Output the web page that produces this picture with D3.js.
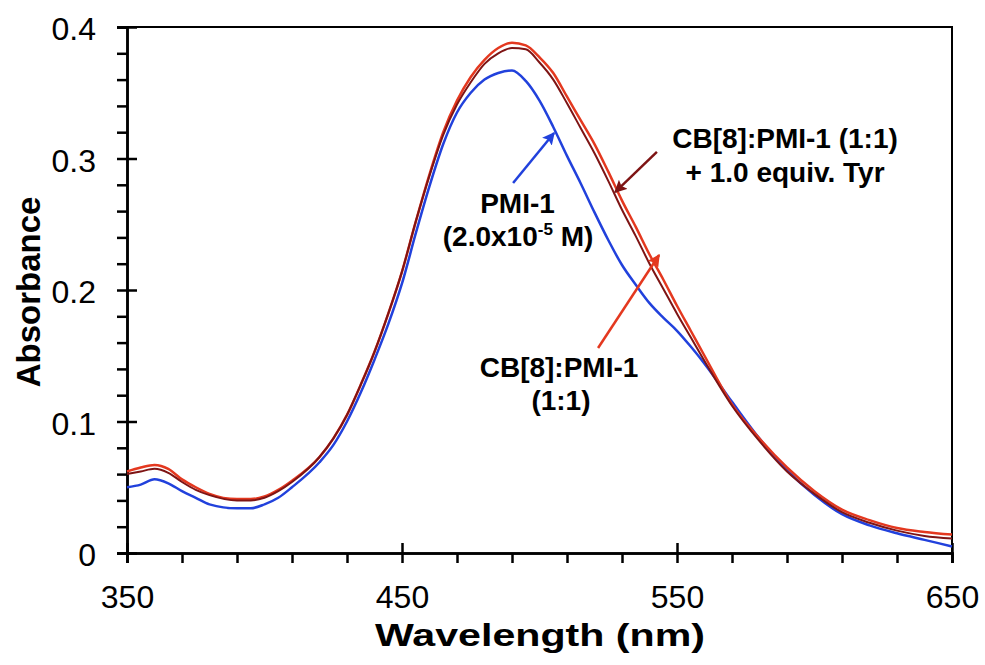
<!DOCTYPE html>
<html>
<head>
<meta charset="utf-8">
<script src="https://cdn.jsdelivr.net/npm/d3@7"></script>
<style>
  body { margin: 0; background: #fff; }
  text { font-family: "Liberation Sans", Arial, sans-serif; }
</style>
</head>
<body>
<div id="chart-area"></div>
<script>
const wavelengths = [350, 355, 360, 365, 370, 375, 380, 390, 395, 400, 405, 410, 420, 425, 430, 435, 440, 445, 450, 455, 460, 465, 470, 475, 480, 485, 490, 495, 500, 505, 510, 515, 520, 525, 530, 535, 540, 545, 550, 555, 560, 570, 580, 590, 600, 610, 620, 630, 640, 650];

const pmi = [0.050, 0.052, 0.056, 0.053, 0.047, 0.042, 0.037, 0.034, 0.034, 0.037, 0.042, 0.050, 0.069, 0.082, 0.100, 0.122, 0.147, 0.174, 0.205, 0.243, 0.279, 0.311, 0.335, 0.350, 0.360, 0.365, 0.367, 0.359, 0.344, 0.324, 0.302, 0.281, 0.259, 0.238, 0.219, 0.204, 0.190, 0.179, 0.169, 0.157, 0.144, 0.115, 0.087, 0.063, 0.044, 0.0295, 0.021, 0.015, 0.010, 0.005];

const cbPmi = [0.062, 0.065, 0.067, 0.064, 0.056, 0.050, 0.045, 0.041, 0.041, 0.043, 0.048, 0.055, 0.073, 0.087, 0.105, 0.128, 0.153, 0.182, 0.214, 0.252, 0.288, 0.320, 0.344, 0.362, 0.375, 0.384, 0.388, 0.386, 0.377, 0.365, 0.347, 0.329, 0.311, 0.290, 0.268, 0.248, 0.227, 0.208, 0.188, 0.169, 0.150, 0.113, 0.087, 0.065, 0.047, 0.033, 0.025, 0.019, 0.016, 0.014];

const cbPmiTyr = [0.060, 0.062, 0.064, 0.061, 0.054, 0.048, 0.044, 0.040, 0.040, 0.042, 0.047, 0.054, 0.073, 0.087, 0.105, 0.128, 0.153, 0.182, 0.214, 0.252, 0.287, 0.318, 0.341, 0.358, 0.372, 0.380, 0.384, 0.383, 0.373, 0.360, 0.342, 0.323, 0.304, 0.283, 0.261, 0.241, 0.220, 0.201, 0.182, 0.164, 0.146, 0.112, 0.085, 0.062, 0.045, 0.031, 0.023, 0.017, 0.013, 0.011];

const xMajor = [350, 450, 550, 650];
const xMinor = [370, 390, 410, 430, 470, 490, 510, 530, 570, 590, 610, 630];
const yMajor = [0, 0.1, 0.2, 0.3, 0.4];
const yMinor = [0.02, 0.04, 0.06, 0.08, 0.12, 0.14, 0.16, 0.18, 0.22, 0.24, 0.26, 0.28, 0.32, 0.34, 0.36, 0.38];
const yLabels = ['0', '0.1', '0.2', '0.3', '0.4'];

const chartSize = { width: 985, height: 665 };
const margin = { left: 127, right: 33, top: 27, bottom: 112 };
const width = chartSize.width - (margin.left + margin.right);
const height = chartSize.height - (margin.top + margin.bottom);

const blue = '#2141dc';
const red = '#e4381f';
const darkRed = '#7e1414';

const svg = d3.select('#chart-area').append('svg')
  .attr('width', chartSize.width)
  .attr('height', chartSize.height);

const g = svg.append('g')
  .attr('transform', `translate(${margin.left},${margin.top})`);

const x = d3.scaleLinear().domain([350, 650]).range([0, width]);
const y = d3.scaleLinear().domain([0, 0.4]).range([height, 0]);

// frame top + right
g.append('path')
  .attr('d', `M0,0H${width}V${height}`)
  .attr('fill', 'none')
  .attr('stroke', '#000')
  .attr('stroke-width', 2);

const styleAxis = (sel) => {
  sel.select('.domain').attr('stroke-width', 2.5);
  sel.selectAll('.tick line').attr('stroke-width', 2.5);
  sel.selectAll('text')
    .attr('font-size', 32)
    .attr('fill', '#000')
    .attr('font-family', '"Liberation Sans", Arial, sans-serif');
};

// minor ticks
g.append('g')
  .attr('transform', `translate(0,${height})`)
  .call(d3.axisBottom(x).tickValues(xMinor).tickSize(10).tickFormat(''))
  .call(styleAxis);
g.append('g')
  .call(d3.axisLeft(y).tickValues(yMinor).tickSize(10).tickFormat(''))
  .call(styleAxis);

// major ticks crossing the axis
const xAxis = g.append('g')
  .attr('transform', `translate(0,${height})`)
  .call(d3.axisBottom(x).tickValues(xMajor).tickSize(10).tickPadding(22).tickFormat(d3.format('d')))
  .call(styleAxis);
xAxis.selectAll('.tick line').attr('y1', -10);

const yAxis = g.append('g')
  .call(d3.axisLeft(y).tickValues(yMajor).tickSize(10).tickPadding(21)
    .tickFormat((d, i) => yLabels[i]))
  .call(styleAxis);
yAxis.selectAll('.tick line').attr('x1', 10);
yAxis.selectAll('.tick text').attr('dy', '0.40em');

// axis titles
svg.append('text')
  .attr('x', 540)
  .attr('y', 646)
  .attr('text-anchor', 'middle')
  .attr('font-size', 32)
  .attr('font-weight', 'bold')
  .attr('textLength', 330)
  .attr('lengthAdjust', 'spacingAndGlyphs')
  .text('Wavelength (nm)');

svg.append('text')
  .attr('transform', 'translate(40,292) rotate(-90)')
  .attr('text-anchor', 'middle')
  .attr('font-size', 33)
  .attr('font-weight', 'bold')
  .text('Absorbance');

// curves
const series = [
  { values: pmi, color: blue, w: 2.5 },
  { values: cbPmi, color: red, w: 2.5 },
  { values: cbPmiTyr, color: darkRed, w: 2 }
];

const line = d3.line()
  .x((d, i) => x(wavelengths[i]))
  .y(d => y(d))
  .curve(d3.curveMonotoneX);

g.selectAll('.curve')
  .data(series)
  .join('path')
  .attr('class', 'curve')
  .attr('d', d => line(d.values))
  .attr('fill', 'none')
  .attr('stroke', d => d.color)
  .attr('stroke-width', d => d.w)
  .attr('stroke-linejoin', 'round');

// annotations: arrows (data units)
const defs = svg.append('defs');
const arrows = [
  { from: [490.4, 0.2814], to: [505.3, 0.3194], color: blue, id: 'ah-blue' },
  { from: [542.7, 0.305], to: [527.5, 0.2745], color: darkRed, id: 'ah-dark' },
  { from: [521.3, 0.1559], to: [543.5, 0.2266], color: red, id: 'ah-red' }
];

arrows.forEach(a => {
  defs.append('marker')
    .attr('id', a.id)
    .attr('viewBox', '0 0 10 10')
    .attr('refX', 9)
    .attr('refY', 5)
    .attr('markerWidth', 5)
    .attr('markerHeight', 5)
    .attr('markerUnits', 'strokeWidth')
    .attr('orient', 'auto')
    .append('path')
    .attr('d', 'M0,0L10,5L0,10L2,5Z')
    .attr('fill', a.color);
  g.append('line')
    .attr('x1', x(a.from[0])).attr('y1', y(a.from[1]))
    .attr('x2', x(a.to[0])).attr('y2', y(a.to[1]))
    .attr('stroke', a.color)
    .attr('stroke-width', 2.5)
    .attr('marker-end', `url(#${a.id})`);
});

// annotation labels
const labels = [
  { text: 'PMI-1', at: [492.0, 0.2586] },
  { text: 'CB[8]:PMI-1 (1:1)', at: [589.3, 0.308] },
  { text: '+ 1.0 equiv. Tyr', at: [589.3, 0.2821] },
  { text: 'CB[8]:PMI-1', at: [507.1, 0.1338] },
  { text: '(1:1)', at: [507.8, 0.1087] }
];

g.selectAll('.ann')
  .data(labels)
  .join('text')
  .attr('class', 'ann')
  .attr('x', d => x(d.at[0]))
  .attr('y', d => y(d.at[1]))
  .attr('text-anchor', 'middle')
  .attr('font-size', 28)
  .attr('font-weight', 'bold')
  .text(d => d.text);

const conc = g.append('text')
  .attr('x', x(492.2))
  .attr('y', y(0.2335))
  .attr('text-anchor', 'middle')
  .attr('font-size', 28)
  .attr('font-weight', 'bold');
conc.append('tspan').text('(2.0x10');
conc.append('tspan').attr('font-size', 17).attr('dy', -11).text('-5');
conc.append('tspan').attr('dy', 11).text(' M)');
</script>
</body>
</html>
